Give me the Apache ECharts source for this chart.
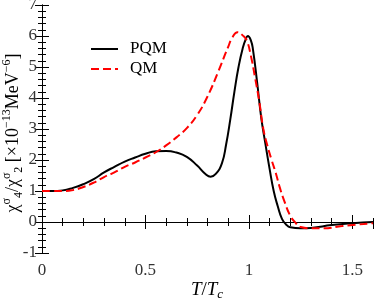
<!DOCTYPE html>
<html>
<head>
<meta charset="utf-8">
<script src="https://cdn.jsdelivr.net/npm/echarts@6/dist/echarts.min.js"></script>
<style>html,body{margin:0;padding:0;background:#fff}#c{width:374px;height:300px}</style>
</head>
<body>
<div id="c"></div>
<script>
const pqmX = [0, 0.05, 0.1, 0.15, 0.2, 0.25, 0.3, 0.35, 0.4, 0.45, 0.5, 0.55, 0.6, 0.65, 0.7, 0.75, 0.79, 0.815, 0.84, 0.87, 0.89, 0.91, 0.93, 0.95, 0.97, 0.985, 0.995, 1.01, 1.02, 1.04, 1.06, 1.08, 1.1, 1.12, 1.14, 1.16, 1.18, 1.2, 1.25, 1.3, 1.4, 1.5, 1.6];
const pqmY = [1.0, 1.0, 1.02, 1.1, 1.22, 1.38, 1.6, 1.78, 1.95, 2.08, 2.2, 2.28, 2.29, 2.24, 2.1, 1.82, 1.55, 1.46, 1.55, 1.9, 2.5, 3.3, 4.2, 5.0, 5.6, 5.9, 6.0, 5.85, 5.55, 4.5, 3.35, 2.52, 1.72, 1.0, 0.5, 0.1, -0.08, -0.17, -0.2, -0.19, -0.1, -0.04, 0.0];
const qmX = [0, 0.05, 0.1, 0.15, 0.2, 0.25, 0.3, 0.35, 0.4, 0.45, 0.5, 0.55, 0.6, 0.65, 0.7, 0.75, 0.8, 0.85, 0.9, 0.92, 0.945, 0.97, 0.99, 1.01, 1.03, 1.05, 1.07, 1.09, 1.11, 1.13, 1.15, 1.17, 1.2, 1.22, 1.25, 1.3, 1.36, 1.45, 1.6];
const qmY = [1.0, 1.0, 1.0, 1.03, 1.13, 1.27, 1.45, 1.6, 1.78, 1.92, 2.08, 2.25, 2.47, 2.73, 3.03, 3.45, 4.05, 4.82, 5.65, 5.95, 6.12, 6.02, 5.85, 5.35, 4.65, 3.9, 3.0, 2.45, 2.0, 1.58, 1.1, 0.7, 0.2, 0.02, -0.16, -0.2, -0.2, -0.13, -0.04];
const xTicks = [0, 0.5, 1, 1.5];
const yTicks = [-1, 0, 1, 2, 3, 4, 5, 6, 7];

const FONT = 'Liberation Serif';
const chart = echarts.init(document.getElementById('c'));
const line = {show: true, lineStyle: {color: '#000', width: 1}};
const noLine = {show: false};
function xAx(pos, interval, len, labels, axLine) {
  return {
    type: 'value', position: pos, min: 0, max: 1.6, interval: interval,
    axisLine: axLine ? line : noLine,
    axisTick: {show: true, inside: true, length: len, lineStyle: {color: '#000', width: 1}},
    axisLabel: labels ? {show: true, margin: 9, fontFamily: FONT, fontSize: 17, color: '#333', showMaxLabel: false,
      formatter: v => (xTicks.indexOf(Math.round(v * 10) / 10) >= 0 ? String(v) : '')} : {show: false},
    splitLine: {show: false}
  };
}
function yAx(pos, interval, len, labels, axLine) {
  return {
    type: 'value', position: pos, min: -1, max: 7, interval: interval,
    axisLine: axLine ? line : noLine,
    axisTick: {show: true, inside: true, length: len, lineStyle: {color: '#000', width: 1}},
    axisLabel: labels ? {show: true, margin: 5, fontFamily: FONT, fontSize: 17, color: '#333',
      formatter: v => (yTicks.indexOf(v) >= 0 ? String(v) : '')} : {show: false},
    splitLine: {show: false}
  };
}
const xAxes = [xAx('bottom', 0.5, 7, true, true), xAx('bottom', 0.1, 4, false, false), xAx('top', 0.5, 7, false, true), xAx('top', 0.1, 4, false, false)];
const yAxes = [yAx('left', 1, 7, true, true), yAx('left', 0.2, 4, false, false), yAx('right', 1, 7, false, true), yAx('right', 0.2, 4, false, false)];

const yNameText = '{n|χ}{sup|σ}{sub|4}{n|/χ}{sup|σ}{sub|2}{n| [×10}{sup|−13}{n|MeV}{sup|−6}{n|]}';
const xNameText = '{it|T}{n|/}{it|T}{sub|c}';

chart.setOption({
  animation: false,
  backgroundColor: '#fff',
  grid: {left: 42, top: 5, right: 1, bottom: 47, containLabel: false, outerBoundsMode: 'none'},
  xAxis: xAxes,
  yAxis: yAxes,
  legend: {
    orient: 'vertical', left: 90, top: 40, padding: 0, itemWidth: 27, itemHeight: 14, itemGap: 2,
    data: ['PQM', 'QM'],
    itemStyle: {opacity: 0},
    textStyle: {fontFamily: FONT, fontSize: 17, lineHeight: 18, color: '#000', padding: [0, 0, 0, 7]}
  },
  graphic: [{
    type: 'text', x: 13, y: 133, rotation: Math.PI / 2,
    style: {
      text: yNameText, align: 'center', verticalAlign: 'middle',
      rich: {
        n: {fontFamily: FONT, fontSize: 18, fill: '#000', lineHeight: 24},
        sup: {fontFamily: FONT, fontSize: 12, fill: '#000', verticalAlign: 'top', lineHeight: 24},
        sub: {fontFamily: FONT, fontSize: 12, fill: '#000', verticalAlign: 'bottom', lineHeight: 24}
      }
    }
  }, {
    type: 'text', x: 207, y: 290,
    style: {
      text: xNameText, align: 'center', verticalAlign: 'middle',
      rich: {
        it: {fontFamily: FONT, fontStyle: 'italic', fontSize: 19, fill: '#000', lineHeight: 22},
        n: {fontFamily: FONT, fontSize: 19, fill: '#000', lineHeight: 22},
        sub: {fontFamily: FONT, fontStyle: 'italic', fontSize: 13, fill: '#000', verticalAlign: 'bottom', lineHeight: 22}
      }
    }
  }],
  series: [
    {name: 'PQM', type: 'line', xAxisIndex: 0, yAxisIndex: 0, symbol: 'none', smooth: true,
      data: pqmX.map((x, i) => [x, pqmY[i]]),
      lineStyle: {color: '#000', width: 2}, itemStyle: {color: '#000'}},
    {name: 'QM', type: 'line', xAxisIndex: 0, yAxisIndex: 0, symbol: 'none', smooth: true,
      data: qmX.map((x, i) => [x, qmY[i]]),
      lineStyle: {color: '#ff0000', width: 2, type: [8, 4]}, itemStyle: {color: '#ff0000'}}
  ]
});
</script>
</body>
</html>
